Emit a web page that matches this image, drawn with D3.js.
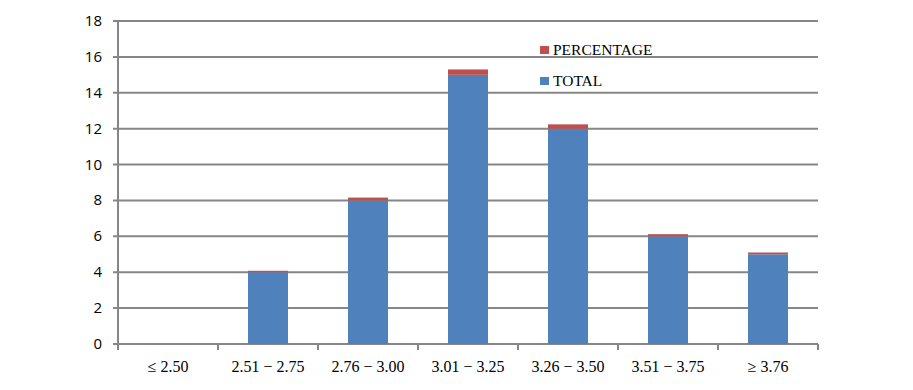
<!DOCTYPE html>
<html>
<head>
<meta charset="utf-8">
<script src="https://cdn.jsdelivr.net/npm/d3@7"></script>
<style>
  body { margin: 0; background: #fff; }
  .ylab { font-family: "Open Sans", "Liberation Sans", sans-serif; font-size: 15px; fill: #000; }
  .xlab { font-family: "Liberation Serif", "DejaVu Serif", serif; font-size: 16px; fill: #000; }
  .leg { font-family: "Liberation Serif", serif; font-size: 15.5px; fill: #000; }
</style>
</head>
<body>
<div id="chart"></div>
<script>
const width = 913, height = 390;

const categories = ["\u2264 2.50", "2.51 \u2212 2.75", "2.76 \u2212 3.00", "3.01 \u2212 3.25", "3.26 \u2212 3.50", "3.51 \u2212 3.75", "\u2265 3.76"];
const total = [0, 4, 8, 15, 12, 6, 5];
const percentage = [0, 0.08, 0.16, 0.30, 0.24, 0.12, 0.10];
const yTicks = [0, 2, 4, 6, 8, 10, 12, 14, 16, 18];

const plotLeft = 118, plotRight = 818, plotTop = 21, plotBottom = 344;
const grey = "#868686";

const svg = d3.select("#chart").append("svg")
  .attr("width", width)
  .attr("height", height);

const x = d3.scaleBand().domain(categories).range([plotLeft, plotRight]).paddingInner(0.6).paddingOuter(0.3);
const xb = d3.scaleBand().domain(categories).range([plotLeft, plotRight]);
const y = d3.scaleLinear().domain([0, 18]).range([plotBottom, plotTop]);

// gridlines
svg.append("g").selectAll("line").data(yTicks).enter()
  .append("line")
  .attr("x1", plotLeft - 5).attr("x2", plotRight)
  .attr("y1", d => y(d)).attr("y2", d => y(d))
  .attr("stroke", grey).attr("stroke-width", 2);

// y axis line
svg.append("line")
  .attr("x1", plotLeft).attr("x2", plotLeft)
  .attr("y1", y(18)).attr("y2", y(0) + 5)
  .attr("stroke", grey).attr("stroke-width", 2);

// x ticks at category boundaries
const bounds = categories.map(c => xb(c)).concat([plotRight]);
svg.append("g").selectAll("line").data(bounds).enter()
  .append("line")
  .attr("x1", d => d).attr("x2", d => d)
  .attr("y1", y(0)).attr("y2", y(0) + 6)
  .attr("stroke", grey).attr("stroke-width", 2);

svg.append("g").selectAll("text").data(yTicks).enter()
  .append("text")
  .attr("class", "ylab")
  .attr("x", plotLeft - 16)
  .attr("y", d => y(d) + 5)
  .attr("text-anchor", "end")
  .text(d => d);

svg.append("g").selectAll("text").data(categories).enter()
  .append("text")
  .attr("class", "xlab")
  .attr("x", d => xb(d) + xb.bandwidth() / 2)
  .attr("y", 372)
  .attr("text-anchor", "middle")
  .text(d => d);

// bars
svg.append("g").selectAll("rect").data(categories).enter()
  .append("rect")
  .attr("x", d => x(d))
  .attr("width", x.bandwidth())
  .attr("y", (d, i) => y(total[i]))
  .attr("height", (d, i) => y(0) - y(total[i]))
  .attr("fill", "#4F81BD");

svg.append("g").selectAll("rect").data(categories).enter()
  .append("rect")
  .attr("x", d => x(d))
  .attr("width", x.bandwidth())
  .attr("y", (d, i) => y(total[i] + percentage[i]))
  .attr("height", (d, i) => y(total[i]) - y(total[i] + percentage[i]))
  .attr("fill", "#C0504D");

// legend
const legend = [["PERCENTAGE", "#C0504D", 50], ["TOTAL", "#4F81BD", 81]];
legend.forEach(l => {
  svg.append("rect").attr("x", 540).attr("y", l[2] - 4).attr("width", 9).attr("height", 8).attr("fill", l[1]);
  svg.append("text").attr("class", "leg").attr("x", 553).attr("y", l[2] + 5).text(l[0]);
});
</script>
</body>
</html>
